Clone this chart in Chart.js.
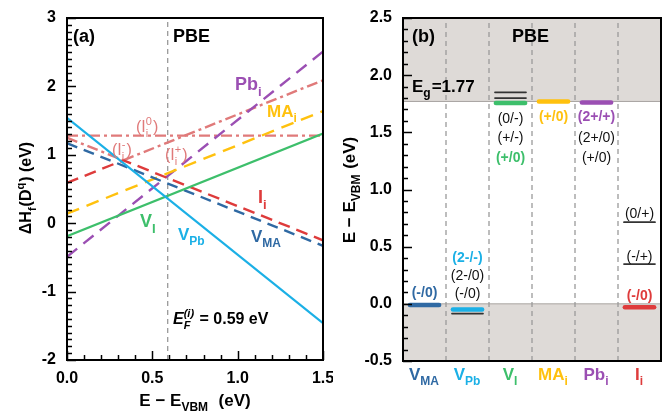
<!DOCTYPE html>
<html>
<head>
<meta charset="utf-8">
<script src="https://cdn.jsdelivr.net/npm/chart.js@4.4.1/dist/chart.umd.min.js"></script>
<style>
  html, body { margin: 0; padding: 0; background: #fff; }
  #wrap { position: relative; width: 667px; height: 416px; }
  #wrap canvas { position: absolute; top: 0; }
</style>
</head>
<body>
<div id="wrap">
  <canvas id="formation" width="333" height="416" style="left:0"></canvas>
  <canvas id="levels" width="334" height="416" style="left:333px"></canvas>
</div>
<script>
// ---- (a) formation energy vs Fermi level (eV) ----
const fermiIntrinsic = 0.59;
const vPbX = [0.0, 1.5];
const vPbY = [1.54, -1.46];
const vIX = [0.0, 1.5];
const vIY = [-0.19, 1.31];
const vMAX = [0.0, 1.5];
const vMAY = [1.17, -0.33];
const maIX = [0.0, 1.5];
const maIY = [0.14, 1.64];
const pbIX = [0.0, 1.5];
const pbIY = [-0.49, 2.51];
const iIX = [0.0, 0.33, 1.5];
const iIY = [0.59, 0.92, -0.25];
const iINeutralX = [0.0, 1.5];
const iINeutralY = [1.28, 1.28];
const iINegX = [0.0, 0.33];
const iINegY = [1.25, 0.92];
const iIPosX = [0.33, 1.5];
const iIPosY = [0.92, 2.09];
const xTicksA = [0.0, 0.5, 1.0, 1.5];
const yTicksA = [-2, -1, 0, 1, 2, 3];

// ---- (b) transition levels (eV above VBM) ----
const defects = ['V_MA', 'V_Pb', 'V_I', 'MA_i', 'Pb_i', 'I_i'];
const bandGap = 1.77;
const levelColumn = [0, 1, 1, 2, 2, 2, 3, 4, 5, 5, 5];
const levelEnergy = [-0.01, -0.05, -0.085, 1.757, 1.80, 1.85, 1.77, 1.76, 0.714, 0.348, -0.03];
const levelShown = [true, true, false, true, false, false, true, true, false, false, true]; // coloured = lowest-energy transition
const yTicksB = [-0.5, 0.0, 0.5, 1.0, 1.5, 2.0, 2.5];

const FONT = '"Liberation Sans", Arial, Helvetica, sans-serif';
const colors = {
  vma: '#2f69a3', vpb: '#1bb0e6', vi: '#3dbf6b', mai: '#ffc10e', pbi: '#9b4fb3', ii: '#de3b3b',
  pink: '#e07a7a', grey: '#9a9a9a', shade: '#dedad7'
};
const columnColors = [colors.vma, colors.vpb, colors.vi, colors.mai, colors.pbi, colors.ii];

// text with sub/superscripts; parts are {t}, or {sub, sup}; y is the vertical centre of capitals
function drawRich(ctx, parts, x, y, o) {
  const size = o.size, small = Math.round(size * 0.7);
  const font = (s, it) => `${it || o.italic ? 'italic ' : ''}${o.bold === false ? '' : 'bold '}${s}px ${FONT}`;
  const items = parts.map(p => {
    if (p.t !== undefined) {
      ctx.font = font(size, p.i);
      return { p, w: ctx.measureText(p.t).width };
    }
    ctx.font = font(small, p.i);
    const w1 = p.sub ? ctx.measureText(p.sub).width : 0;
    const w2 = p.sup ? ctx.measureText(p.sup).width : 0;
    return { p, w: Math.max(w1, w2) + 1 };
  });
  const total = items.reduce((a, b) => a + b.w, 0);
  let cx = o.align === 'center' ? x - total / 2 : (o.align === 'right' ? x - total : x);
  const base = y + size * 0.36;
  ctx.save();
  ctx.fillStyle = o.color || '#000';
  ctx.textAlign = 'left';
  ctx.textBaseline = 'alphabetic';
  items.forEach(({ p, w }) => {
    if (p.t !== undefined) {
      ctx.font = font(size, p.i);
      ctx.fillText(p.t, cx, base);
    } else {
      ctx.font = font(small, p.i);
      if (p.sub) ctx.fillText(p.sub, cx, base + size * 0.3);
      if (p.sup) ctx.fillText(p.sup, cx, base - size * 0.45);
    }
    cx += w;
  });
  ctx.restore();
}

function line(xs, ys, color, dash, width, order) {
  return {
    data: xs.map((x, i) => ({ x, y: ys[i] })),
    showLine: true, fill: false, tension: 0, pointRadius: 0,
    borderColor: color, borderWidth: width || 2, borderDash: dash || [],
    order: order || 0
  };
}

// inward ticks on left and bottom axes, plus the black frame
function drawAxes(chart, spec) {
  const { ctx, chartArea: a } = chart;
  const xs = chart.scales.x, ys = chart.scales.y;
  ctx.save();
  ctx.strokeStyle = '#000';
  ctx.lineWidth = 1.5;
  const n = Math.round((spec.yMax - spec.yMin) / spec.yMinor);
  for (let i = 0; i <= n; i++) {
    const v = spec.yMin + i * spec.yMinor;
    const major = Math.abs(v / spec.yMajor - Math.round(v / spec.yMajor)) < 1e-6;
    const py = Math.round(ys.getPixelForValue(v)) + 0.5;
    ctx.beginPath();
    ctx.moveTo(a.left, py);
    ctx.lineTo(a.left + (major ? 9 : 5), py);
    ctx.stroke();
  }
  if (spec.xMinor) {
    const m = Math.round((spec.xMax - spec.xMin) / spec.xMinor);
    for (let i = 0; i <= m; i++) {
      const v = spec.xMin + i * spec.xMinor;
      const major = Math.abs(v / spec.xMajor - Math.round(v / spec.xMajor)) < 1e-6;
      const px = Math.round(xs.getPixelForValue(v)) + 0.5;
      ctx.beginPath();
      ctx.moveTo(px, a.bottom);
      ctx.lineTo(px, a.bottom - (major ? 9 : 5));
      ctx.stroke();
    }
  }
  ctx.lineWidth = 2;
  ctx.strokeRect(a.left, a.top, a.right - a.left, a.bottom - a.top);
  ctx.fillStyle = '#000';
  ctx.font = `bold 16px ${FONT}`;
  ctx.textBaseline = 'middle';
  ctx.textAlign = 'right';
  spec.yTicks.forEach(v => ctx.fillText(spec.yFmt(v), a.left - 11, ys.getPixelForValue(v)));
  if (spec.xTicks) {
    ctx.textAlign = 'center';
    spec.xTicks.forEach(v => ctx.fillText(v.toFixed(1), xs.getPixelForValue(v), a.bottom + 19));
  }
  ctx.restore();
}

function rotatedTitle(ctx, parts, x, y, size) {
  ctx.save();
  ctx.translate(x, y);
  ctx.rotate(-Math.PI / 2);
  drawRich(ctx, parts, 0, 0, { size, align: 'center' });
  ctx.restore();
}

const baseOptions = (xMin, xMax, yMin, yMax, padding) => ({
  responsive: false,
  animation: false,
  layout: { padding },
  plugins: { legend: { display: false }, tooltip: { enabled: false } },
  scales: {
    x: { type: 'linear', min: xMin, max: xMax, display: false },
    y: { type: 'linear', min: yMin, max: yMax, display: false }
  }
});

// ---------- panel (a) ----------
const panelA = {
  id: 'panelA',
  afterDraw(chart) {
    const ctx = chart.ctx;
    drawAxes(chart, {
      xMin: 0, xMax: 1.5, xMinor: 0.1, xMajor: 0.5, xTicks: xTicksA,
      yMin: -2, yMax: 3, yMinor: 0.1, yMajor: 1, yTicks: yTicksA, yFmt: v => String(v)
    });
    drawRich(ctx, [{ t: '(a)' }], 73, 36, { size: 18 });
    drawRich(ctx, [{ t: 'PBE' }], 173, 36, { size: 18 });
    drawRich(ctx, [{ t: 'Pb' }, { sub: 'i' }], 235, 84, { size: 18, color: colors.pbi });
    drawRich(ctx, [{ t: 'MA' }, { sub: 'i' }], 267, 111, { size: 17, color: colors.mai });
    drawRich(ctx, [{ t: '(I' }, { sub: 'i', sup: '0' }, { t: ')' }], 136, 126, { size: 16, bold: false, color: colors.pink });
    drawRich(ctx, [{ t: '(I' }, { sub: 'i', sup: '-' }, { t: ')' }], 112, 149, { size: 16, bold: false, color: colors.pink });
    drawRich(ctx, [{ t: '(I' }, { sub: 'i', sup: '+' }, { t: ')' }], 165, 154, { size: 16, bold: false, color: colors.pink });
    drawRich(ctx, [{ t: 'I' }, { sub: 'i' }], 258, 197, { size: 18, color: colors.ii });
    drawRich(ctx, [{ t: 'V' }, { sub: 'I' }], 140, 221, { size: 18, color: colors.vi });
    drawRich(ctx, [{ t: 'V' }, { sub: 'Pb' }], 178, 234, { size: 17, color: colors.vpb });
    drawRich(ctx, [{ t: 'V' }, { sub: 'MA' }], 251, 236, { size: 17, color: colors.vma });
    drawRich(ctx, [{ t: 'E', i: true }, { sub: 'F', sup: '(i)', i: true }, { t: ' = 0.59 eV' }], 173, 318, { size: 16 });
    rotatedTitle(ctx, [{ t: 'ΔH' }, { sub: 'f' }, { t: '(D' }, { sup: 'q' }, { t: ') (eV)' }], 25, 188, 16);
    drawRich(ctx, [{ t: 'E − E' }, { sub: 'VBM' }, { t: '  (eV)' }], 195, 400, { size: 17, align: 'center' });
  }
};

new Chart(document.getElementById('formation'), {
  type: 'scatter',
  data: {
    datasets: [
      line(vPbX, vPbY, colors.vpb, [], 2.2, 0),
      line(vIX, vIY, colors.vi, [], 2.2, 1),
      line(vMAX, vMAY, colors.vma, [11, 7], 2.4, 2),
      line(iIX, iIY, colors.ii, [12, 7], 2.4, 2),
      line(maIX, maIY, colors.mai, [13, 8], 2.4, 2),
      line(pbIX, pbIY, colors.pbi, [13, 8], 2.4, 2),
      line(iINeutralX, iINeutralY, colors.pink, [11, 4, 3, 4], 2.4, 3),
      line(iINegX, iINegY, colors.pink, [11, 4, 3, 4], 2.4, 3),
      line(iIPosX, iIPosY, colors.pink, [11, 4, 3, 4], 2.4, 3),
      line([fermiIntrinsic, fermiIntrinsic], [-2, 3], colors.grey, [5, 4], 1.3, 4)
    ]
  },
  options: baseOptions(0, 1.5, -2, 3, { left: 67, top: 18, right: 10, bottom: 56 }),
  plugins: [panelA]
});

// ---------- panel (b) ----------
const catLabels = [
  [{ t: 'V' }, { sub: 'MA' }],
  [{ t: 'V' }, { sub: 'Pb' }],
  [{ t: 'V' }, { sub: 'I' }],
  [{ t: 'MA' }, { sub: 'i' }],
  [{ t: 'Pb' }, { sub: 'i' }],
  [{ t: 'I' }, { sub: 'i' }]
];
// level annotations: column, energy of text centre, text, coloured?
const levelNotes = [
  [0, 0.107, '(-/0)', true],
  [1, 0.412, '(2-/-)', true], [1, 0.252, '(2-/0)', false], [1, 0.094, '(-/0)', false],
  [2, 1.626, '(0/-)', false], [2, 1.458, '(+/-)', false], [2, 1.282, '(+/0)', true],
  [3, 1.647, '(+/0)', true],
  [4, 1.647, '(2+/+)', true], [4, 1.458, '(2+/0)', false], [4, 1.282, '(+/0)', false],
  [5, 0.798, '(0/+)', false], [5, 0.418, '(-/+)', false], [5, 0.075, '(-/0)', true]
];

const panelB = {
  id: 'panelB',
  afterDraw(chart) {
    const ctx = chart.ctx;
    const xs = chart.scales.x, ys = chart.scales.y;
    drawAxes(chart, {
      yMin: -0.5, yMax: 2.5, yMinor: 0.1, yMajor: 0.5, yTicks: yTicksB, yFmt: v => v.toFixed(1)
    });
    levelNotes.forEach(([c, e, txt, hl]) => {
      drawRich(ctx, [{ t: txt }], xs.getPixelForValue(c + 0.5), ys.getPixelForValue(e),
        { size: 14, bold: hl, align: 'center', color: hl ? columnColors[c] : '#111' });
    });
    catLabels.forEach((parts, c) => {
      drawRich(ctx, parts, xs.getPixelForValue(c + 0.5), 374, { size: 17, align: 'center', color: columnColors[c] });
    });
    drawRich(ctx, [{ t: '(b)' }], 79, 36, { size: 18 });
    drawRich(ctx, [{ t: 'PBE' }], 179, 36, { size: 18 });
    drawRich(ctx, [{ t: 'E' }, { sub: 'g' }, { t: '=1.77' }], 79, 86, { size: 17 });
    rotatedTitle(ctx, [{ t: 'E − E' }, { sub: 'VBM' }, { t: ' (eV)' }], 16, 190, 17);
  }
};

const levelSets = levelColumn.map((c, k) => {
  const thick = levelShown[k];
  const a = thick ? 0.16 : 0.14, b = thick ? 0.84 : 0.86;
  const ds = line([c + a, c + b], [levelEnergy[k], levelEnergy[k]],
    thick ? columnColors[c] : '#333', [], thick ? 4.5 : 1.8, thick ? 0 : 1);
  ds.borderCapStyle = 'round';
  return ds;
});
const separators = [1, 2, 3, 4, 5].map(k => line([k, k], [-0.5, 2.5], colors.grey, [5, 4], 1.3, 5));
const conduction = line([0, defects.length], [bandGap, bandGap], '#a9a5a2', [], 1, 10);
conduction.fill = 'end';
conduction.backgroundColor = colors.shade;
const valence = line([0, defects.length], [0, 0], '#a9a5a2', [], 1, 10);
valence.fill = 'start';
valence.backgroundColor = colors.shade;

new Chart(document.getElementById('levels'), {
  type: 'scatter',
  data: { datasets: [...levelSets, ...separators, conduction, valence] },
  options: baseOptions(0, defects.length, -0.5, 2.5, { left: 70, top: 18, right: 6, bottom: 55 }),
  plugins: [panelB]
});
</script>
</body>
</html>
